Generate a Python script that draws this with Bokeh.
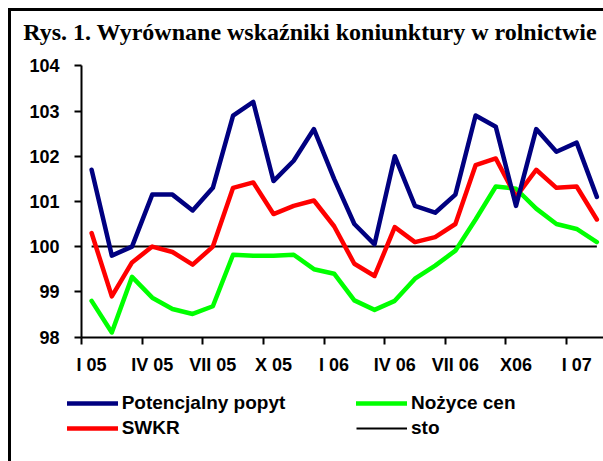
from bokeh.plotting import figure
from bokeh.models import FixedTicker, Label, Legend, LegendItem, Range1d
from bokeh.embed import file_html
from bokeh.resources import INLINE

# ---- data (monthly, I 2005 .. II 2007) ----
months = list(range(26))
potencjalny_popyt = [101.7, 99.8, 100.0, 101.15, 101.15, 100.8, 101.3, 102.9, 103.2,
                     101.45, 101.9, 102.6, 101.5, 100.5, 100.05, 102.0, 100.9, 100.75,
                     101.15, 102.9, 102.65, 100.9, 102.6, 102.1, 102.3, 101.1]
swkr = [100.3, 98.9, 99.65, 100.0, 99.88, 99.6, 100.0, 101.3, 101.42, 100.72, 100.9,
        101.02, 100.45, 99.62, 99.35, 100.43, 100.1, 100.21, 100.5, 101.8, 101.95,
        101.1, 101.7, 101.3, 101.33, 100.6]
nozyce_cen = [98.8, 98.1, 99.33, 98.87, 98.62, 98.51, 98.68, 99.82, 99.8, 99.8, 99.82,
              99.5, 99.4, 98.81, 98.6, 98.8, 99.29, 99.58, 99.91, 100.6, 101.33, 101.28,
              100.84, 100.5, 100.39, 100.1]
sto = [100] * 26

tick_positions = [0, 3, 6, 9, 12, 15, 18, 21, 24]
tick_labels = ["I 05", "IV 05", "VII 05", "X 05", "I 06", "IV 06", "VII 06", "X06", "I 07"]
y_ticks = [98, 99, 100, 101, 102, 103, 104]
title_text = "Rys. 1. Wyrównane wskaźniki koniunktury w rolnictwie"

SANS = "Liberation Sans"
SERIF = "Liberation Serif"

W, H = 592, 450          # frame = whole figure
PX_X = 20.21             # px per month
PX_Y = 45.2              # px per index point
x0 = -0.5 - 70 / PX_X
y1 = 104 + 54.3 / PX_Y

p = figure(frame_width=W, frame_height=H, output_backend="svg", toolbar_location=None,
           x_range=Range1d(x0, x0 + W / PX_X), y_range=Range1d(y1 - H / PX_Y, y1),
           min_border=0)
p.styles = {"margin-top": "8px", "margin-left": "8px",
            "border-top": "3px solid black", "border-left": "3px solid black"}
p.background_fill_color = "white"
p.border_fill_color = "white"
p.outline_line_color = None
p.xgrid.visible = False
p.ygrid.visible = False

common = dict(line_width=4.5, line_join="round", line_cap="round")
r_sto = p.line(months, sto, line_color="black", line_width=2)
r_green = p.line(months, nozyce_cen, line_color="#00FF00", **common)
r_red = p.line(months, swkr, line_color="#FF0000", **common)
r_blue = p.line(months, potencjalny_popyt, line_color="#000080", **common)

# x axis, drawn at y = 98 inside the frame
xa = p.xaxis[0]
xa.fixed_location = 98
xa.bounds = (-0.5, x0 + W / PX_X)
xa.ticker = FixedTicker(ticks=tick_positions,
                        minor_ticks=[t - 0.5 for t in tick_positions])
xa.major_label_overrides = {t: l for t, l in zip(tick_positions, tick_labels)}
xa.major_tick_out = 0
xa.major_tick_in = 0
xa.minor_tick_out = 7
xa.minor_tick_in = 0
xa.minor_tick_line_width = 2
xa.minor_tick_line_color = "black"
xa.axis_line_width = 2
xa.axis_line_color = "black"
xa.major_label_standoff = 11
xa.major_label_text_font = SANS
xa.major_label_text_font_style = "bold"
xa.major_label_text_font_size = "18px"
xa.major_label_text_color = "black"

# y axis, drawn at x = -0.5 inside the frame
ya = p.yaxis[0]
ya.fixed_location = -0.5
ya.bounds = (98, 104)
ya.ticker = FixedTicker(ticks=y_ticks)
ya.major_tick_out = 7
ya.major_tick_in = 0
ya.minor_tick_out = 0
ya.minor_tick_in = 0
ya.major_tick_line_width = 2
ya.major_tick_line_color = "black"
ya.axis_line_width = 2
ya.axis_line_color = "black"
ya.major_label_standoff = 15
ya.major_label_text_font = SANS
ya.major_label_text_font_style = "bold"
ya.major_label_text_font_size = "18px"
ya.major_label_text_color = "black"

# title
p.add_layout(Label(x=11.7, y=H - 20.7, x_units="screen", y_units="screen",
                   text=title_text, text_font=SERIF, text_font_style="bold",
                   text_font_size="24px", text_color="black",
                   text_baseline="alphabetic", text_align="left"))

# legends
def make_legend(items, vx):
    return Legend(items=items, location=(vx, 22.3), orientation="vertical",
                  glyph_width=51, glyph_height=22, label_height=22, spacing=3,
                  label_standoff=4, padding=0, margin=0,
                  border_line_color=None, background_fill_alpha=0,
                  label_text_font=SANS, label_text_font_style="bold",
                  label_text_font_size="19px", label_text_color="black")

p.add_layout(make_legend([LegendItem(label="Potencjalny popyt", renderers=[r_blue]),
                          LegendItem(label="SWKR", renderers=[r_red])], 55.7))
p.add_layout(make_legend([LegendItem(label="Nożyce cen", renderers=[r_green]),
                          LegendItem(label="sto", renderers=[r_sto])], 345))

open("out.html", "w").write(file_html(p, INLINE))
